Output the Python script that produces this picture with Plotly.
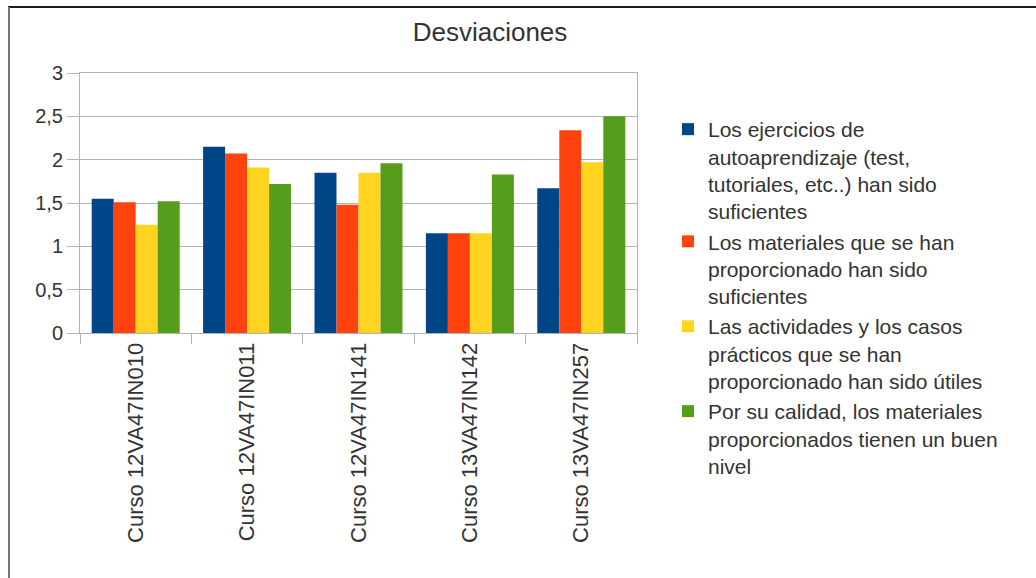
import plotly.graph_objects as go

categories = ["Curso 12VA47IN010", "Curso 12VA47IN011", "Curso 12VA47IN141",
              "Curso 13VA47IN142", "Curso 13VA47IN257"]
series_names = [
    "Los ejercicios de<br>autoaprendizaje (test,<br>tutoriales, etc..) han sido<br>suficientes",
    "Los materiales que se han<br>proporcionado han sido<br>suficientes",
    "Las actividades y los casos<br>prácticos que se han<br>proporcionado han sido útiles",
    "Por su calidad, los materiales<br>proporcionados tienen un buen<br>nivel",
]
ejercicios = [1.55, 2.15, 1.85, 1.15, 1.67]
materiales = [1.51, 2.07, 1.48, 1.15, 2.34]
actividades = [1.25, 1.91, 1.85, 1.15, 1.97]
calidad = [1.52, 1.72, 1.96, 1.83, 2.50]
series_values = [ejercicios, materiales, actividades, calidad]
colors = ["#004586", "#ff420e", "#ffd320", "#579d1c"]
y_ticks = [0, 0.5, 1, 1.5, 2, 2.5, 3]

W, H = 1036, 578
L, R, T, B = 80, 399, 73, 245
pw, ph = W - L - R, H - T - B


def px_x(p):
    return (p - L) / pw


def px_y(p):
    return 1 - (p - T) / ph


fig = go.Figure()
for name, vals, c in zip(series_names, series_values, colors):
    fig.add_trace(go.Bar(x=categories, y=vals, name=name,
                         marker=dict(color=c, line=dict(width=0))))

font = "Liberation Sans, Arial, sans-serif"
txt = "#333333"
fig.update_layout(
    width=W, height=H,
    margin=dict(l=L, r=R, t=T, b=B, autoexpand=False),
    paper_bgcolor="white", plot_bgcolor="white",
    separators=", ",
    barmode="group", bargap=0.21, bargroupgap=0,
    font=dict(family=font, color=txt),
    title=dict(text="Desviaciones", x=px_x(490), xref="paper", xanchor="center",
               y=1 - 32 / H, yanchor="middle", font=dict(size=26, color=txt)),
    xaxis=dict(showline=True, linecolor="#b3b3b3", mirror=True, ticks="outside",
               tickson="boundaries", ticklen=10, tickcolor="#b3b3b3", tickangle=-90,
               tickfont=dict(size=22, color=txt), showgrid=False),
    yaxis=dict(range=[0, 3], tickvals=y_ticks, showline=True, linecolor="#b3b3b3", mirror=True,
               ticks="outside", ticklen=12, tickcolor="#b3b3b3", gridcolor="#b3b3b3",
               tickfont=dict(size=20, color=txt), zeroline=False),
    legend=dict(x=px_x(668), xanchor="left", y=px_y(109), yanchor="top",
                font=dict(size=21, color=txt), itemwidth=30, valign="top",
                maxheight=1000, bgcolor="rgba(0,0,0,0)", traceorder="normal"),
    shapes=[
        dict(type="line", xref="paper", yref="paper",
             x0=px_x(8), x1=px_x(1040), y0=px_y(7), y1=px_y(7),
             line=dict(color="#1a1a1a", width=2)),
        dict(type="line", xref="paper", yref="paper",
             x0=px_x(9), x1=px_x(9), y0=px_y(7), y1=px_y(590),
             line=dict(color="#777777", width=2)),
    ],
)
fig.write_html("out.html", config={"displayModeBar": False},
               post_script="document.body.style.margin='0';")
